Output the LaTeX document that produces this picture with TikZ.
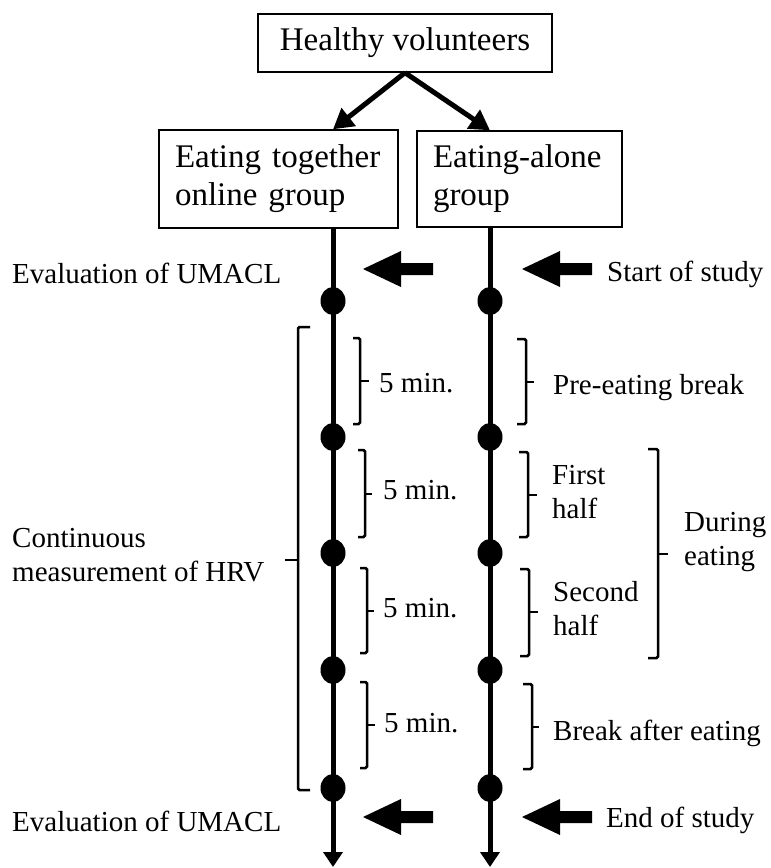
\documentclass[tikz,border=0pt]{standalone}
\usepackage{fontspec}
\setmainfont{Liberation Serif}
\usetikzlibrary{shapes.geometric,arrows.meta}
\newcommand{\rbrk}[6]{\draw[brk] (#1,#3) -- (#2,#3) -- (#2,#4) -- (#1,#4); \draw[brk] (#2,#6) -- (#5,#6);}
\tikzset{blockarrow/.pic={\fill (0,0) -- (38,-18) -- (38,-6) -- (70,-6) -- (70,6) -- (38,6) -- (38,18) -- cycle;}}
\begin{document}
\begin{tikzpicture}[x=1pt,y=-1pt,
  box/.style={draw, line width=1.4pt, align=left, font=\fontsize{33}{38}\selectfont, inner sep=0pt},
  lbl/.style={font=\fontsize{29}{34}\selectfont, inner sep=0pt, align=left},
  dotnode/.style={ellipse, fill=black, minimum width=25pt, minimum height=28pt, inner sep=0pt},
  timeline/.style={line width=5pt, -{Triangle[width=19pt,length=15pt]}},
  splitarrow/.style={line width=5pt, -{Triangle[width=22pt,length=20pt]}},
  brk/.style={line width=2.5pt, rounded corners=1.5pt}
]
\useasboundingbox (0,0) rectangle (771,868);

% boxes
\node[box, minimum width=294pt, minimum height=58pt, align=center] (H) at (405,43) {Healthy volunteers};
\node[box, text width=207pt, inner xsep=16pt, minimum height=98pt] (L) at (278.5,179) {Eating together\\online group};
\node[box, text width=173pt, inner xsep=16pt, minimum height=96pt] (R) at (519.5,179) {Eating-alone\\group};

% time points
\foreach \i/\y in {1/301,2/437,3/553,4/670,5/788}{
  \node[dotnode] (L\i) at (333,\y) {};
  \node[dotnode] (R\i) at (490,\y) {};
}
\coordinate (Lend) at (333,867);
\coordinate (Rend) at (490,867);

% connectors
\draw[splitarrow] (H.south) -- (L.north -| L1);
\draw[splitarrow] (H.south) -- (R.north -| R1);
\draw[timeline] (L.south -| L1) -- (Lend);
\draw[timeline] (R.south -| R1) -- (Rend);

% block arrows
\pic at (363,269) {blockarrow};
\pic at (522,269) {blockarrow};
\pic at (363,817) {blockarrow};
\pic at (522,817) {blockarrow};

% brackets
\rbrk{353}{360}{338}{424}{369}{381}
\rbrk{358}{365}{450}{537}{372}{494}
\rbrk{360}{367}{568}{653}{374}{611}
\rbrk{360}{367}{682}{768}{375}{725}
\rbrk{517}{526}{339}{424}{534}{382}
\rbrk{519}{528}{452}{537}{537}{495}
\rbrk{520}{529}{569}{656}{538}{612}
\rbrk{523}{532}{684}{769}{539}{727}
\rbrk{648}{658}{449}{658}{668}{554}
\rbrk{310}{298}{327}{790}{285}{560}

% labels
\node[lbl, anchor=base west] (evtop) at (12,283) {Evaluation of UMACL};
\node[lbl, anchor=base west] (start) at (607,281) {Start of study};
\node[lbl, anchor=base west] (m1) at (379,392) {5 min.};
\node[lbl, anchor=base west] (pre) at (553,394) {Pre-eating break};
\node[lbl, anchor=base west] (m2) at (383,499) {5 min.};
\node[lbl, anchor=west] (first) at (552,492) {First\\half};
\node[lbl, anchor=base west] (m3) at (383,617) {5 min.};
\node[lbl, anchor=west] (second) at (553,609) {Second\\half};
\node[lbl, anchor=west] (during) at (684,542) {During\\eating};
\node[lbl, anchor=west] (cont) at (12,555) {Continuous\\measurement of HRV};
\node[lbl, anchor=base west] (m4) at (384,732) {5 min.};
\node[lbl, anchor=base west] (after) at (553,740) {Break after eating};
\node[lbl, anchor=base west] (evbot) at (12,831) {Evaluation of UMACL};
\node[lbl, anchor=base west] (end) at (606,827) {End of study};
\end{tikzpicture}
\end{document}
